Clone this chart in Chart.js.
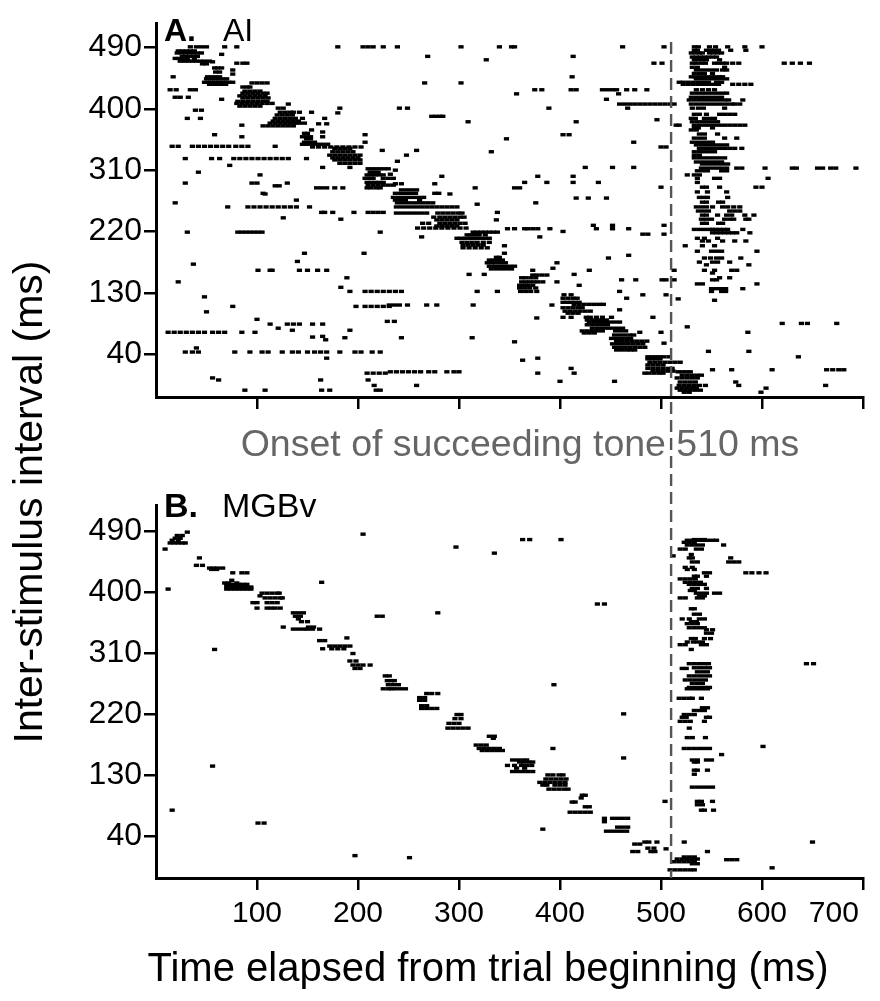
<!DOCTYPE html>
<html>
<head>
<meta charset="utf-8">
<script src="https://cdn.jsdelivr.net/npm/chart.js@4.4.1/dist/chart.umd.min.js"></script>
<style>
  html, body { margin: 0; padding: 0; background: #fff; }
  #wrap { position: relative; width: 880px; height: 1001px; }
  #wrap canvas { position: absolute; left: 0; top: 0; }
</style>
</head>
<body>
<div id="wrap">
  <canvas id="panel-a" width="880" height="1001"></canvas>
  <canvas id="panel-b" width="880" height="1001"></canvas>
</div>
<script>
"use strict";

const FONT = "'Liberation Sans', Arial, sans-serif";

const yTicks = [40, 130, 220, 310, 400, 490];
const xTicks = [100, 200, 300, 400, 500, 600, 700];
const onsetMs = 510;

// each row: [inter-stimulus interval, spike times (ms)...]
const aiTrackRows = [
  [491, 34, 40, 45, 50], [485, 22, 26, 30, 34, 38], [482, 21, 25, 29, 33, 37, 41, 45],
  [477, 26, 30, 34, 38, 41], [474, 19, 23, 27, 31, 38], [470, 24, 28, 32, 36, 40, 44, 48, 53], [466, 46, 50],
  [460, 58, 61, 65], [457, 76], [454, 59, 63], [451, 76], [447, 51, 55, 59, 63],
  [444, 50, 54, 58, 62, 66, 70], [439, 48, 52, 56, 60, 64, 68, 72, 76], [436, 53, 57, 61, 65, 69],
  [438, 95, 100, 105, 110], [432, 86, 90, 93], [426, 88, 93, 98, 103], [423, 86, 91, 96, 101, 106, 110],
  [419, 83, 88, 93, 98, 103, 108], [416, 86, 91, 96, 101, 106, 111], [411, 81, 86, 91, 96, 101, 106, 110],
  [408, 80, 85, 90, 95, 100, 105, 110, 115], [404, 83, 88, 93, 98, 103],
  [401, 121, 126], [395, 123, 128, 133, 136, 142], [391, 120, 125, 130, 135],
  [386, 118, 123, 128, 133, 138, 145], [382, 116, 121, 126, 131, 136, 141],
  [379, 113, 118, 123, 128, 133, 138, 142, 147], [375, 106, 111, 116, 121, 126, 131, 136],
  [364, 147, 150], [359, 145, 149, 153, 165], [356, 149, 153], [351, 147, 152, 157],
  [348, 145, 150, 155, 160, 165, 170], [344, 155, 161, 167, 173, 179, 185, 191, 197, 203],
  [342, 177, 182, 187, 192], [337, 175, 180, 185, 190, 195], [332, 172, 177, 182, 187, 192, 197, 202],
  [328, 175, 180, 185, 190, 195, 200], [325, 177, 182, 187, 192, 197, 202], [320, 182, 187, 192, 197, 202],
  [312, 210, 214, 218, 222, 226, 230], [307, 212, 216, 220], [303, 209, 213, 217, 221, 225],
  [298, 207, 211, 215, 225, 230, 235], [292, 209, 213, 217, 221, 225], [288, 210, 215, 220, 225, 230, 235],
  [284, 209, 213, 218, 222],
  [281, 243, 248, 253, 258], [276, 237, 242, 247, 252, 257, 276, 280], [270, 235, 240, 245, 250, 255, 260, 265],
  [266, 237, 242, 247, 261], [262, 239, 244, 249, 254, 259, 264, 269, 274],
  [256, 238, 243, 248, 253, 258, 263, 268, 273, 278, 283, 288, 293, 298],
  [247, 238, 243, 248, 253, 258, 263, 268, 279, 284, 289, 294, 299, 303],
  [241, 275, 281, 286, 291, 296, 301, 305], [237, 278, 283, 288, 293, 298],
  [232, 264, 270, 281, 286, 291, 296, 301, 306], [228, 278, 283, 288, 293, 298],
  [225, 259, 265, 271, 277, 283, 289, 295, 301, 307],
  [219, 314, 318, 322, 326, 330, 334, 338], [215, 308, 312, 316, 320, 326],
  [210, 298, 302, 306, 310, 314, 318, 322, 326, 330], [204, 303, 308, 313, 318, 324, 330],
  [200, 304, 309, 314, 319, 324], [196, 304, 310, 316, 322, 328],
  [182, 337, 340], [178, 330, 334, 338, 343], [174, 328, 332, 336, 341, 346],
  [169, 330, 335, 340, 345, 350, 355], [165, 332, 337, 342, 347, 352],
  [156, 373, 377, 382, 387], [152, 362, 366, 371, 376], [146, 362, 366, 370, 374, 378, 383],
  [141, 360, 364, 368, 373], [137, 360, 365, 370, 376], [132, 361, 366, 371, 377],
  [127, 404, 411], [122, 403, 408, 413, 417], [116, 403, 407, 411, 415, 419],
  [113, 414, 419, 424, 429, 434, 439, 443], [108, 403, 408, 413, 418, 422],
  [103, 405, 410, 415, 420, 425, 430], [100, 408, 413, 418],
  [94, 426, 430, 436, 442, 451], [90, 427, 432, 437, 442, 446], [87, 429, 434, 439, 444, 449, 454, 459],
  [83, 427, 432, 437, 442, 447], [78, 432, 437, 442, 447, 452, 457, 462],
  [74, 422, 427, 432, 437, 442, 455, 460, 465], [71, 424, 429, 434],
  [68, 454, 459, 464, 469, 473], [63, 451, 456, 461, 466, 470], [59, 456, 461, 466, 471, 476, 481, 486],
  [55, 452, 457, 462, 467, 472, 477, 482], [50, 454, 459, 464, 469, 474, 479, 484], [46, 456, 461, 466, 470, 474],
  [36, 487, 491, 495, 499, 503, 508], [33, 487, 491, 495, 499], [28, 489, 494, 499, 504, 509, 514, 519],
  [24, 487, 492, 497, 502], [19, 487, 492, 497, 502, 507, 511], [15, 492, 497, 502, 507, 512],
  [12, 484, 488, 493, 498, 502],
  [14, 517, 521, 525, 529], [9, 521, 526, 531, 536, 540], [5, 516, 521, 526, 531, 536],
  [-1, 519, 524, 529, 534], [-6, 518, 523, 528, 533, 538, 544], [-10, 516, 521, 526, 531, 535],
  [-13, 519, 524, 529, 534, 539], [-16, 523, 528]
];

const aiToneRows = [
  [491, 533, 537, 548, 554, 566, 583, 600], [486, 533, 536, 545, 549, 553, 557, 569, 584],
  [482, 530, 534, 538, 541, 548, 552, 556, 560], [476, 531, 535, 539, 543, 547, 551, 555],
  [472, 533, 537, 541, 545, 558], [467, 531, 535, 540, 544, 553, 557, 561, 565, 571, 577, 622, 630, 638, 647],
  [461, 531, 536, 563], [457, 535, 540, 545, 550, 555, 561, 565], [452, 533, 538, 543, 551],
  [447, 530, 534, 538, 542, 546, 550, 554, 558, 561], [444, 535, 540, 545, 550, 555, 560, 565],
  [439, 518, 522, 527, 532, 537, 542, 547, 555, 560],
  [436, 522, 527, 532, 537, 542, 547, 552, 557, 571, 577, 583, 589],
  [428, 535, 541, 547, 553], [423, 531, 536, 541, 546, 551, 556, 561, 565],
  [417, 530, 535, 540, 545, 550, 555, 560], [413, 528, 533, 538, 543, 548, 553, 558, 563, 567, 581],
  [407, 530, 535, 540, 545, 550, 555, 560, 565, 570, 573, 578], [401, 531, 537, 542, 563],
  [392, 533, 538, 545, 558, 563, 568, 573], [386, 530, 534, 543, 548, 553],
  [381, 531, 536, 541, 546, 551, 556],
  [376, 515, 518, 533, 538, 543, 548, 553, 558, 563, 568, 573, 578, 583],
  [372, 533, 537, 551], [369, 530, 535], [363, 538, 543, 556], [357, 533, 538, 543, 563, 575],
  [351, 531, 536, 541, 546, 551], [347, 535, 540, 545, 550, 555, 560, 565],
  [342, 538, 543, 548, 553, 558, 563, 568, 573, 580], [337, 533, 538, 543, 548, 553], [332, 533, 538],
  [328, 533, 538, 543, 548, 553, 558, 563], [322, 535, 540, 545, 550, 555, 560],
  [319, 541, 546, 551, 556, 561, 566],
  [313, 540, 545, 550, 555, 560, 565, 575, 580, 603, 630, 634, 655, 660, 668, 673, 693],
  [309, 536, 541, 546, 560, 565], [303, 526, 533, 538], [298, 536, 553, 558, 606], [292, 536],
  [285, 541, 545, 558, 594, 600], [278, 536, 546, 565], [270, 538, 542, 546, 566], [263, 541, 545, 557, 561],
  [256, 535, 540, 545, 551, 561, 566, 572, 578], [250, 537, 542, 547, 568, 573, 578],
  [244, 541, 545, 556, 565, 570, 583, 592], [238, 540, 545, 550, 563, 568, 572, 584, 587],
  [232, 541, 545, 557, 561], [223, 533, 538, 543, 548, 551, 554, 558, 562, 566, 581],
  [218, 551, 555, 559, 563, 567, 571, 575, 588], [210, 536, 543, 556], [206, 541, 547, 561, 573, 584],
  [199, 524, 541, 553], [191, 536, 550, 555, 560, 595], [181, 543, 549, 555, 560, 579],
  [175, 538, 551, 556, 568], [171, 545, 587], [163, 543, 553, 570, 575], [159, 551], [152, 558, 568],
  [149, 551, 555], [143, 536, 541, 595], [136, 550, 555, 560, 564, 581], [132, 550, 560, 564], [119, 553]
];

const aiSpontRows = [
  [491, 68, 80, 180, 205, 210, 215, 225, 239, 302, 340, 352, 355, 462, 503], [480, 65], [477, 269, 413],
  [472, 327], [469, 56], [467, 80, 86, 90, 493, 501], [447, 17, 412], [438, 266, 302],
  [428, 14, 20, 34, 39, 375, 382, 411, 416, 442, 447, 452, 456, 466, 474, 486], [422, 357, 458],
  [417, 19, 24, 32], [414, 65, 446],
  [407, 131, 459, 464, 469, 474, 479, 484, 489, 494, 499, 504, 509, 513],
  [401, 182, 241, 249, 389, 467], [398, 39, 45], [395, 154], [394, 180], [389, 273, 277, 281, 284],
  [386, 31, 44, 167], [384, 496], [381, 309, 416], [378, 161, 169], [376, 85], [369, 154], [366, 165],
  [362, 58, 207, 403, 409], [359, 85], [356, 347], [351, 207, 473],
  [345, 16, 22, 36, 42, 48, 54, 60, 66, 72, 79, 85, 91, 118], [344, 500, 505], [339, 224, 258],
  [337, 332], [332, 248],
  [327, 29, 55, 63, 77, 83, 89, 95, 101, 107, 113, 119, 125, 131, 149],
  [323, 239], [317, 73], [314, 165, 192, 425, 452, 473], [310, 237], [307, 42], [304, 232], [303, 103],
  [301, 283, 378, 413], [292, 365, 387, 413, 438], [291, 29, 95, 100, 130], [290, 237, 243, 276],
  [287, 118, 122], [285, 500], [284, 159, 164, 169, 177, 185, 316, 355, 360], [276, 106], [275, 108, 291],
  [269, 416, 428, 446], [266, 139], [262, 19, 376], [260, 318],
  [256, 71, 91, 97, 103, 109, 115, 121, 127, 133, 139, 152],
  [248, 164, 167, 175, 196, 210, 215, 220, 225, 338], [240, 126], [238, 183], [237, 337],
  [229, 433, 452, 503], [224, 348, 355, 365, 368, 373, 378, 390, 436, 452, 468], [220, 403],
  [219, 31, 81, 85, 89, 93, 97, 101, 105, 222], [216, 482, 487, 503], [212, 263, 380], [199, 345],
  [188, 147, 206, 345], [185, 468], [181, 448], [176, 140], [174, 397], [172, 37], [166, 393],
  [163, 101, 113, 115, 142, 150, 160, 169, 373, 429, 513], [157, 310, 325, 414], [152, 189],
  [149, 461, 475, 501, 505, 513], [146, 22, 397], [141, 419], [138, 183],
  [132, 192, 207, 213, 219, 225, 231, 237, 243, 318, 338, 459], [127, 482, 505], [124, 48],
  [122, 466], [121, 517], [112, 231, 236, 241, 249, 268, 278, 314, 392],
  [110, 76, 198, 207, 213, 219, 225, 231], [105, 459], [102, 50], [94, 403, 411, 492], [93, 377],
  [91, 100], [88, 229, 236], [85, 620, 639, 645, 674], [84, 113, 130, 136, 142, 155, 165],
  [80, 526], [78, 121], [75, 135, 192],
  [72, 12, 18, 24, 30, 36, 42, 48, 56, 62, 68, 85, 98, 479, 500, 586],
  [66, 165], [65, 155], [64, 187, 243, 313], [61, 168], [58, 355], [56, 503], [49, 40], [44, 547, 587],
  [43, 29, 36, 42, 78, 93, 105, 111, 125, 135, 141, 150, 157, 163, 169, 182, 197, 203, 214, 222],
  [36, 636], [34, 169, 378], [31, 363], [19, 411], [17, 551, 570, 610, 664, 670, 676, 681],
  [14, 232, 238, 244, 250, 256, 262, 270, 276, 288, 295, 300], [12, 209, 215, 221, 227, 378, 414],
  [5, 56], [2, 62, 163, 210], [0, 400, 454], [-1, 574], [-6, 216, 258, 577, 663], [-10, 604],
  [-13, 88, 108, 164, 172, 218, 222], [-16, 599]
];

const mgbTrackRows = [
  [488, 31], [483, 21, 26], [479, 19, 24], [476, 16, 22], [472, 14, 18, 22, 26, 29], [450, 43],
  [439, 40, 46], [435, 53, 57, 61, 66], [433, 55, 60], [428, 76, 85, 90], [417, 75], [413, 68, 72, 80],
  [411, 70, 74, 78, 82, 86, 90], [407, 70, 74, 78, 82, 86, 90, 94], [404, 70, 74, 78, 82, 86, 90, 94],
  [398, 105, 110, 115, 120, 122], [394, 103], [391, 108, 113, 118, 123, 125], [384, 96, 100, 110, 115, 120],
  [376, 100, 110, 114, 118, 123], [369, 136, 141, 146], [364, 138, 143], [360, 141], [356, 144, 150],
  [348, 126, 151, 156], [345, 136, 141, 146, 150, 155, 162], [332, 189], [328, 162, 167],
  [320, 172, 177, 182, 187, 192], [316, 165, 174, 180, 186], [309, 195], [298, 192, 198],
  [292, 195, 200, 205, 212], [287, 197, 202], [276, 227, 231], [269, 229, 233, 236], [263, 230, 235, 240],
  [257, 225, 230, 233, 237, 242, 247], [250, 268, 273, 279], [244, 261, 266], [240, 261, 266],
  [232, 263, 268], [228, 263, 268, 273, 278], [219, 298, 302], [213, 296, 302], [206, 290, 295, 300],
  [199, 289, 294, 299, 304, 309], [187, 330, 335], [184, 334], [174, 317, 322, 327],
  [169, 320, 325, 330, 335, 340], [166, 323, 328, 333, 338, 343], [152, 353, 358, 363, 367],
  [149, 360, 364, 369, 373], [144, 348, 355, 362, 367, 372], [140, 357, 365], [135, 353, 358, 363, 368, 373],
  [130, 388, 393, 399, 403], [124, 386, 391, 396, 401, 406], [119, 380, 385, 390, 395, 400, 405],
  [115, 383, 387, 395, 400, 405], [109, 389, 394, 399, 404, 408], [100, 422, 425], [96, 421],
  [90, 412, 415], [83, 425, 429], [75, 410, 415, 420, 425, 430], [66, 444, 452, 457, 462, 467], [61, 444],
  [53, 457, 462, 467], [47, 446, 451, 456, 461, 466], [31, 484, 488, 496], [28, 474, 479], [22, 487, 493],
  [17, 472, 477, 490, 494]
];

const mgbToneRows = [
  [477, 533, 538, 543], [476, 526, 531, 536, 541, 546, 551, 555], [473, 523, 528, 533],
  [469, 526, 531, 536, 541, 562], [463, 519, 524, 535, 540], [455, 530], [453, 512], [450, 528, 531, 569],
  [444, 531, 536, 567, 572, 577], [436, 524, 531], [433, 526, 533], [428, 543, 548, 584, 590, 597, 604],
  [423, 533, 536, 545], [419, 519, 524, 529, 534], [414, 524, 529, 534, 539], [411, 528, 533, 538, 543],
  [405, 531, 536, 545], [402, 529, 533], [398, 535, 540, 545, 553, 558], [394, 538, 543],
  [391, 519, 524, 536, 541], [375, 530, 533], [367, 533, 538], [360, 521, 528, 538, 543], [356, 530, 535],
  [353, 526, 531, 536], [347, 528, 533, 538, 543], [344, 545, 551], [339, 545, 550],
  [331, 530, 534, 543, 549], [326, 526, 532, 536, 541], [322, 519, 524, 540, 545], [315, 530],
  [294, 528, 533, 538, 543, 547, 644, 651], [288, 533, 538, 543, 548], [287, 521, 525],
  [282, 536, 541, 546], [276, 528, 533, 538, 543, 548], [270, 524, 529, 534, 539, 544],
  [265, 531, 536, 541], [259, 528, 533, 538, 543, 548], [257, 526, 531, 536, 541, 546],
  [243, 518, 523, 528, 531, 540], [229, 541, 546], [225, 533, 538, 543], [219, 523, 528, 533],
  [215, 521, 525, 545, 548], [209, 519, 524, 529, 543], [199, 528], [185, 526, 531, 544],
  [172, 601], [169, 523, 528, 533, 538, 543, 548], [160, 560], [152, 531, 536, 545, 550], [149, 533, 536],
  [137, 533, 536, 546], [131, 533], [112, 531, 536, 541, 546, 551], [91, 504, 536, 540, 551],
  [86, 536, 541], [78, 540, 543, 552], [31, 523, 650], [21, 505], [17, 546], [9, 523, 528, 533],
  [6, 516, 521, 526, 531, 536], [5, 565, 570, 575], [2, 513, 518, 523, 528, 533], [-1, 531, 536],
  [-7, 610], [-10, 509, 514, 519, 524, 529, 533]
];

const mgbSpontRows = [
  [485, 205], [477, 363, 370, 401], [466, 297], [463, 9], [457, 335], [414, 164], [404, 12],
  [382, 437, 444], [369, 279], [364, 219, 224], [315, 58], [263, 394], [220, 463], [169, 393],
  [155, 463], [143, 56], [78, 16], [59, 101, 107], [50, 383], [11, 197], [8, 251]
];

let chartA = null;

function toPoints(rows) {
  return rows.flatMap(([isi, ...times]) => times.map((t) => ({ x: t, y: isi })));
}

function spikeDataset(rows) {
  return {
    type: "scatter",
    data: toPoints(rows),
    pointStyle: "line",
    pointRadius: 2.6,
    pointBorderWidth: 3.4,
    borderColor: "#000",
    backgroundColor: "#000",
    showLine: false
  };
}

const panelText = {
  id: "panelText",
  afterDraw(chart, args, opts) {
    const { ctx } = chart;
    ctx.save();
    ctx.fillStyle = "#000";
    ctx.textBaseline = "alphabetic";
    ctx.textAlign = "left";
    ctx.font = `bold ${opts.size}px ${FONT}`;
    ctx.fillText(opts.letter, 164, opts.baseline);
    ctx.font = `${opts.size}px ${FONT}`;
    ctx.fillText(opts.name, opts.nameX, opts.baseline);

    (opts.extra || []).forEach((item) => {
      ctx.save();
      ctx.fillStyle = item.color;
      ctx.font = `${item.size}px ${FONT}`;
      ctx.textAlign = "center";
      ctx.textBaseline = "middle";
      ctx.translate(item.x, item.y);
      ctx.rotate(item.rotate || 0);
      ctx.fillText(item.text, 0, 0);
      ctx.restore();
    });
    ctx.restore();
  }
};

const onsetLine = {
  id: "onsetLine",
  afterDatasetsDraw(chart) {
    if (!chartA) return;
    const { ctx } = chart;
    const x = chart.scales.x.getPixelForValue(onsetMs);
    const top = chartA.scales.y.getPixelForValue(498);
    ctx.save();
    ctx.strokeStyle = "#555";
    ctx.lineWidth = 2.4;
    ctx.setLineDash([12, 6]);
    ctx.beginPath();
    ctx.moveTo(x, top);
    ctx.lineTo(x, chart.chartArea.bottom);
    ctx.stroke();
    ctx.restore();
  }
};

function makePanel(canvasId, cfg) {
  return new Chart(document.getElementById(canvasId), {
    data: { datasets: cfg.rows.map(spikeDataset) },
    plugins: cfg.plugins,
    options: {
      responsive: false,
      animation: false,
      events: [],
      layout: { padding: cfg.padding },
      plugins: {
        legend: { display: false },
        tooltip: { enabled: false },
        panelText: cfg.text
      },
      scales: {
        x: {
          type: "linear",
          min: 0,
          max: 700,
          afterBuildTicks: (scale) => { scale.ticks = xTicks.map((value) => ({ value })); },
          afterFit: (scale) => {
            scale.height = cfg.xHeight;
            scale.paddingLeft = 0;
            scale.paddingRight = 0;
          },
          grid: { drawOnChartArea: false, drawTicks: true, tickLength: 12, color: "#000", lineWidth: 2.5 },
          border: { display: true, color: "#000", width: 3 },
          ticks: {
            display: cfg.xLabels,
            color: "#000",
            padding: 6,
            font: { family: FONT, size: 30 },
            callback: (value) => (value === 700 ? "700       " : String(value))
          }
        },
        y: {
          type: "linear",
          min: cfg.yMin,
          max: cfg.yMax,
          afterBuildTicks: (scale) => { scale.ticks = yTicks.map((value) => ({ value })); },
          afterFit: (scale) => {
            scale.width = 156;
            scale.paddingTop = 0;
            scale.paddingBottom = 0;
          },
          grid: { drawOnChartArea: false, drawTicks: true, tickLength: 12, color: "#000", lineWidth: 2.5 },
          border: { display: true, color: "#000", width: 3 },
          ticks: { color: "#000", padding: 2, font: { family: FONT, size: 32 } }
        }
      }
    }
  });
}

chartA = makePanel("panel-a", {
  rows: [aiTrackRows, aiToneRows, aiSpontRows],
  plugins: [panelText],
  padding: { top: 23, right: 17, bottom: 584, left: 0 },
  xHeight: 20,
  xLabels: false,
  yMin: -23,
  yMax: 526,
  text: {
    letter: "A.",
    name: "AI",
    nameX: 223,
    size: 32,
    baseline: 41,
    extra: [
      { text: "Onset of succeeding tone 510 ms", x: 520, y: 446, size: 37.5, color: "#666" }
    ]
  }
});

makePanel("panel-b", {
  rows: [mgbTrackRows, mgbToneRows, mgbSpontRows],
  plugins: [panelText, onsetLine],
  padding: { top: 505, right: 17, bottom: 0, left: 0 },
  xHeight: 123,
  xLabels: true,
  yMin: -22,
  yMax: 528,
  text: {
    letter: "B.",
    name: "MGBv",
    nameX: 222,
    size: 34,
    baseline: 517,
    extra: [
      { text: "Time elapsed from trial beginning (ms)", x: 488, y: 970, size: 40, color: "#000" },
      { text: "Inter-stimulus interval (ms)", x: 31, y: 502, size: 41, color: "#000", rotate: -Math.PI / 2 }
    ]
  }
});
</script>
</body>
</html>
